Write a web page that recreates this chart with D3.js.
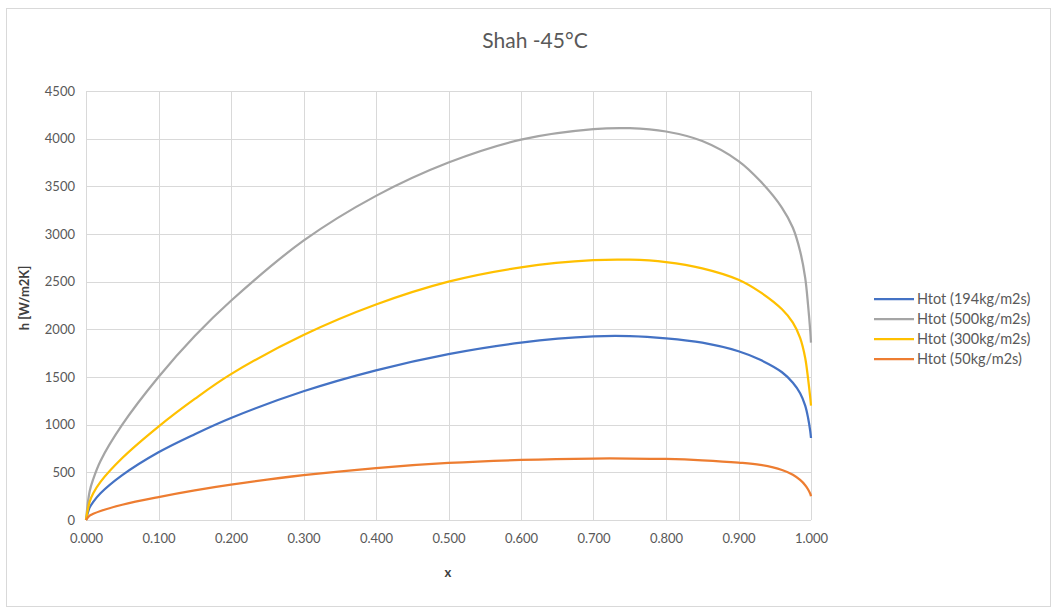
<!DOCTYPE html>
<html>
<head>
<meta charset="utf-8">
<script src="https://cdn.jsdelivr.net/npm/d3@7"></script>
<style>
  body { margin: 0; background: #fff; }
  svg text { font-family: Lato, "Liberation Sans", sans-serif; }
</style>
</head>
<body>
<div id="chart"></div>
<script>
// chart data
var chartTitle = "Shah -45°C";
var xTicks = [0, 0.1, 0.2, 0.3, 0.4, 0.5, 0.6, 0.7, 0.8, 0.9, 1.0];
var yTicks = [0, 500, 1000, 1500, 2000, 2500, 3000, 3500, 4000, 4500];

var quality = [0, 0.005, 0.01, 0.02, 0.05, 0.1, 0.15, 0.2, 0.3, 0.4, 0.5, 0.6, 0.7, 0.75, 0.8, 0.85, 0.9, 0.93, 0.96, 0.975, 0.985, 0.992, 0.996, 0.999, 1.0];

var htot194 = [0, 130, 190, 280, 470, 710, 900, 1070, 1350, 1570, 1740, 1860, 1925, 1928, 1905, 1860, 1770, 1680, 1550, 1440, 1330, 1200, 1070, 930, 860];
var htot500 = [0, 300, 430, 620, 1000, 1500, 1930, 2300, 2930, 3400, 3750, 3990, 4100, 4110, 4075, 3975, 3765, 3555, 3275, 3065, 2820, 2540, 2250, 1980, 1860];
var htot300 = [0, 190, 280, 400, 650, 980, 1270, 1530, 1940, 2260, 2500, 2650, 2725, 2730, 2705, 2640, 2520, 2390, 2210, 2070, 1910, 1700, 1480, 1280, 1200];
var htot50  = [0, 45, 65, 95, 160, 240, 310, 370, 470, 545, 598, 630, 645, 645, 640, 626, 602, 578, 525, 475, 420, 365, 320, 275, 250];

var seriesNames = ["Htot (194kg/m2s)", "Htot (500kg/m2s)", "Htot (300kg/m2s)", "Htot (50kg/m2s)"];
var seriesValues = [htot194, htot500, htot300, htot50];
var seriesColors = ["#4472C4", "#A5A5A5", "#FFC000", "#ED7D31"];

// sizes
var svgWidth = 1057, svgHeight = 610;
var plot = { left: 86, right: 811, top: 91, bottom: 520 };

var svg = d3.select("#chart")
    .append("svg")
    .attr("width", svgWidth)
    .attr("height", svgHeight);

// outer chart border
svg.append("rect")
    .attr("x", 6.5).attr("y", 8.5)
    .attr("width", 1044).attr("height", 598)
    .attr("fill", "#fff")
    .attr("stroke", "#d9d9d9");

var x = d3.scaleLinear().domain([0, 1]).range([plot.left, plot.right]);
var y = d3.scaleLinear().domain([0, 4500]).range([plot.bottom, plot.top]);

// gridlines
svg.append("g").selectAll("line").data(yTicks).join("line")
    .attr("x1", plot.left).attr("x2", plot.right)
    .attr("y1", d => Math.round(y(d)) + 0.5).attr("y2", d => Math.round(y(d)) + 0.5)
    .attr("stroke", "#d9d9d9");
svg.append("g").selectAll("line").data(xTicks).join("line")
    .attr("y1", plot.top).attr("y2", plot.bottom)
    .attr("x1", d => Math.round(x(d)) + 0.5).attr("x2", d => Math.round(x(d)) + 0.5)
    .attr("stroke", "#d9d9d9");

// axis labels
var yAxis = d3.axisLeft(y).tickValues(yTicks).tickSize(0).tickPadding(11).tickFormat(d3.format("d"));
var gy = svg.append("g").attr("transform", `translate(${plot.left},0)`).call(yAxis);
var xAxis = d3.axisBottom(x).tickValues(xTicks).tickSize(0).tickPadding(14).tickFormat(d3.format(".3f"));
var gx = svg.append("g").attr("transform", `translate(0,${plot.bottom})`).call(xAxis);
[gx, gy].forEach(function(g) {
    g.select(".domain").remove();
    g.selectAll("text").attr("fill", "#595959").style("font-size", "13px")
        .style("font-family", "Lato, sans-serif");
});

// lines
var line = d3.line()
    .x((d, i) => x(quality[i]))
    .y(d => y(d))
    .curve(d3.curveCatmullRom.alpha(0.5));

seriesValues.forEach(function(vals, k) {
    svg.append("path")
        .datum(vals)
        .attr("d", line)
        .attr("fill", "none")
        .attr("stroke", seriesColors[k])
        .attr("stroke-width", 2.25)
        .attr("stroke-linejoin", "round");
});

// titles
svg.append("text")
    .attr("x", 535).attr("y", 48)
    .attr("text-anchor", "middle")
    .attr("fill", "#595959")
    .style("font-size", "21px")
    .text(chartTitle);

svg.append("text")
    .attr("x", 448).attr("y", 577)
    .attr("text-anchor", "middle")
    .attr("fill", "#404040")
    .style("font-size", "13px")
    .style("font-weight", "bold")
    .text("x");

svg.append("text")
    .attr("transform", "translate(29,298) rotate(-90)")
    .attr("text-anchor", "middle")
    .attr("fill", "#404040")
    .style("font-size", "13px")
    .style("font-weight", "bold")
    .text("h [W/m2K]");

// legend
var legend = svg.append("g").selectAll("g").data(seriesNames).join("g")
    .attr("transform", (d, i) => `translate(874,${299 + i * 20})`);
legend.append("line")
    .attr("x1", 0).attr("x2", 40)
    .attr("stroke", (d, i) => seriesColors[i])
    .attr("stroke-width", 2.25);
legend.append("text")
    .attr("x", 43).attr("dy", "0.35em")
    .attr("fill", "#595959")
    .style("font-size", "14.5px")
    .text(d => d);
</script>
</body>
</html>
